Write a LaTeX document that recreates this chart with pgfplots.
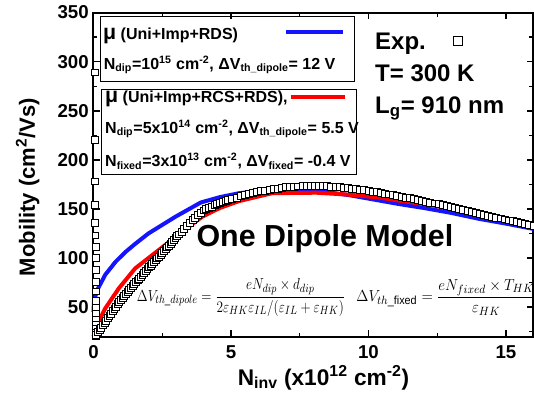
\documentclass[border=0pt]{standalone}
\usepackage{amsmath}
\usepackage{fontspec}
\setmainfont{Liberation Sans}
\usepackage{pgfplots}
\pgfplotsset{compat=1.18}
\definecolor{cblue}{RGB}{20,20,255}
\definecolor{cred}{RGB}{255,0,0}
\begin{document}
\begin{tikzpicture}
\begin{axis}[
  at={(0pt,0pt)}, anchor=south west,
  scale only axis, width=330pt, height=243pt,
  xmin=0, xmax=16, ymin=20, ymax=350,
  xtick={0,5,10,15}, minor xtick={2.5,7.5,12.5},
  ytick={50,100,150,200,250,300,350},
  minor ytick={25,75,125,175,225,275,325},
  tick align=inside,
  major tick length=5pt, minor tick length=3pt,
  every major tick/.append style={line width=1.2pt, black},
  every minor tick/.append style={line width=1pt, black},
  axis line style={line width=1.5pt},
  /pgf/number format/assume math mode=true,
  tick label style={font=\fontsize{14}{14}\selectfont\bfseries},
  xticklabel style={yshift=-3pt},
  clip=false,
]
\addplot[only marks, mark=square*, mark size=2.6pt, mark options={fill=white, draw=black, line width=0.6pt}] coordinates {
(0.060,289) (0.062,220) (0.064,178) (0.066,154) (0.068,136) (0.070,123) (0.072,111) (0.074,100) (0.076,88) (0.078,76) (0.080,66) (0.082,56) (0.084,49) (0.086,43) (0.088,37) (0.090,32) (0.092,28) (0.094,24) (0.096,21)
(0.10,22.0) (0.16,24.4) (0.22,26.8) (0.28,29.2) (0.34,31.6) (0.40,34.0) (0.46,36.4) (0.52,38.8) (0.58,41.1) (0.64,43.5)
(0.70,45.8) (0.76,48.1) (0.82,50.5) (0.88,52.8) (0.94,55.2) (1.00,57.5) (1.06,59.5) (1.12,61.5) (1.18,63.4) (1.24,65.4)
(1.30,67.4) (1.36,69.4) (1.42,71.4) (1.48,73.3) (1.54,75.3) (1.60,77.2) (1.66,79.1) (1.72,81.0) (1.78,83.0) (1.84,84.9)
(1.90,86.8) (1.96,88.7) (2.02,90.6) (2.08,92.4) (2.14,94.2) (2.20,96.0) (2.26,97.8) (2.32,99.6) (2.38,101.4) (2.44,103.2)
(2.50,105.0) (2.56,106.9) (2.62,108.8) (2.68,110.8) (2.74,112.7) (2.80,114.6) (2.86,116.5) (2.92,118.4) (2.98,120.4) (3.04,122.2)
(3.10,124.0) (3.20,127.0) (3.30,130.0) (3.40,133.0) (3.50,136.0) (3.60,138.5) (3.70,141.0) (3.80,143.5) (3.90,146.0) (4.00,148.5)
(4.10,149.8) (4.20,151.1) (4.30,152.4) (4.40,153.7) (4.50,155.0) (4.60,156.0) (4.70,157.0) (4.80,158.0) (4.90,159.0)
(5.05,160.4) (5.20,161.6) (5.35,162.8) (5.50,164.0) (5.65,165.0) (5.80,166.1) (5.95,167.2)
(6.10,168.0) (6.25,168.8) (6.40,169.5) (6.55,170.2) (6.70,170.8) (6.85,171.4) (7.00,172.0) (7.15,172.3) (7.30,172.6) (7.45,172.9)
(7.60,173.1) (7.75,173.25) (7.90,173.4) (8.05,173.5) (8.20,173.3) (8.35,173.15) (8.50,173.0) (8.65,172.7) (8.80,172.4) (8.95,172.1)
(9.10,171.7) (9.25,171.25) (9.40,170.8) (9.55,170.3) (9.70,169.7) (9.85,169.1) (10.00,168.5) (10.15,167.75) (10.30,167.0) (10.45,166.25)
(10.60,165.5) (10.75,164.75) (10.90,164.0) (11.05,163.2) (11.20,162.4) (11.35,161.6) (11.50,160.75) (11.65,159.9) (11.80,159.1) (11.95,158.3)
(12.10,157.4) (12.25,156.5) (12.40,155.6) (12.55,154.7) (12.70,153.8) (12.85,152.9) (13.00,152.0) (13.15,151.0) (13.30,150.05) (13.45,149.1)
(13.60,148.1) (13.75,147.1) (13.90,146.15) (14.05,145.2) (14.20,144.2) (14.35,143.2) (14.50,142.25) (14.65,141.3) (14.80,140.3) (14.95,139.3)
(15.10,138.3) (15.25,137.4) (15.40,136.4) (15.55,135.4) (15.70,134.5) (15.85,133.5) (16.00,132.5)
};
\addplot[cblue, line width=3pt, line join=round] coordinates {
(0,45) (0.02,56) (0.13,67) (0.43,83) (0.8,96) (1.16,106) (1.5,114) (2.0,125) (2.98,142) (3.9,156.5) (4.6,162) (5.3,166) (6.5,169.5) (8.1,168.5) (9.3,164) (10.4,158.5) (11.1,155) (12,151) (13,146) (14,140) (15,135) (16,129.6)
};
\addplot[cred, line width=3pt, line join=round] coordinates {
(0,20) (0.1,29) (0.2,36) (0.43,48.7) (0.92,69) (1.52,89.5) (2.37,108) (3.22,126.7) (3.95,142) (4.6,151) (5.3,158) (6.5,166) (8.1,166.5) (9.3,164.5) (10.4,161.5) (11.1,158.5) (12,155) (13,150.5) (14,145) (15,140) (16,134.6)
};
\end{axis}
% legend boxes
\draw[line width=0.7pt] (4.9pt,191.1pt) rectangle (196.1pt,239.9pt);
\draw[line width=0.7pt] (6.1pt,121.9pt) rectangle (196.9pt,185.4pt);
\node[anchor=base west, inner sep=0, font=\fontsize{12}{14}\selectfont\bfseries] at (7.1pt,222.4pt) {{\fontsize{16}{16}\selectfont μ} (Uni+Imp+RDS)};
\node[anchor=base west, inner sep=0, font=\fontsize{12}{14}\selectfont\bfseries] at (7.6pt,200.5pt) {N\textsubscript{dip}=10\textsuperscript{15} cm\textsuperscript{-2}, ΔV\textsubscript{th\_dipole}= 12 V};
\draw[cblue, line width=3pt] (144.4pt,228.6pt) -- (187.4pt,228.6pt);
\node[anchor=base west, inner sep=0, font=\fontsize{12}{14}\selectfont\bfseries] at (8.6pt,175.5pt) {{\fontsize{16}{16}\selectfont μ} (Uni+Imp+RCS+RDS),};
\node[anchor=base west, inner sep=0, font=\fontsize{12}{14}\selectfont\bfseries] at (8.6pt,152.4pt) {N\textsubscript{dip}=5x10\textsuperscript{14} cm\textsuperscript{-2}, ΔV\textsubscript{th\_dipole}= 5.5 V};
\node[anchor=base west, inner sep=0, font=\fontsize{12}{14}\selectfont\bfseries] at (8.6pt,127.4pt) {N\textsubscript{fixed}=3x10\textsuperscript{13} cm\textsuperscript{-2}, ΔV\textsubscript{fixed}= -0.4 V};
\draw[cred, line width=3pt] (147.9pt,179.4pt) -- (188.6pt,179.4pt);
% exp text
\node[anchor=base west, inner sep=0, font=\fontsize{18}{18}\selectfont\bfseries] at (211.1pt,214.9pt) {Exp.};
\draw[line width=0.7pt, fill=white] (270.0pt,218.4pt) rectangle (276.4pt,224.8pt);
\node[anchor=base west, inner sep=0, font=\fontsize{18}{18}\selectfont\bfseries] at (211.1pt,191.1pt) {T= 300 K};
\node[anchor=base west, inner sep=0, font=\fontsize{18}{18}\selectfont\bfseries] at (211.1pt,167.4pt) {L\textsubscript{g}= 910 nm};
% model text
\node[anchor=base, inner sep=0, font=\fontsize{22.8}{24}\selectfont\bfseries] at (173.6pt,67.9pt) {One Dipole Model};
\node[anchor=west, inner sep=0] at (32.4pt,29.4pt) {\scalebox{0.83}[1]{\fontsize{12.5}{14}\selectfont $\Delta V_{th\_dipole} = \dfrac{eN_{dip}\times d_{dip}}{2\varepsilon_{HK}\varepsilon_{IL}/(\varepsilon_{IL}+\varepsilon_{HK})}$}};
\node[anchor=west, inner sep=0] at (197pt,29.4pt) {\scalebox{0.93}[1]{\fontsize{12.5}{14}\selectfont $\Delta V_{th\_\mathrm{fixed}} = \dfrac{eN_{fixed}\times T_{HK}}{\varepsilon_{HK}}$}};
% axis labels
\node[rotate=90, anchor=base, inner sep=0, font=\fontsize{16.5}{16.5}\selectfont\bfseries] at (-43.9pt,112.1pt) {Mobility (cm\textsuperscript{2}/Vs)};
\node[anchor=base, inner sep=0, font=\fontsize{17}{17}\selectfont\bfseries] at (172.5pt,-36.4pt) {N\textsubscript{inv} (x10\textsuperscript{12} cm\textsuperscript{-2})};
\pgfresetboundingbox
\path[use as bounding box] (-70.1pt,-44.6pt) rectangle (330.4pt,252.4pt);
\end{tikzpicture}
\end{document}
